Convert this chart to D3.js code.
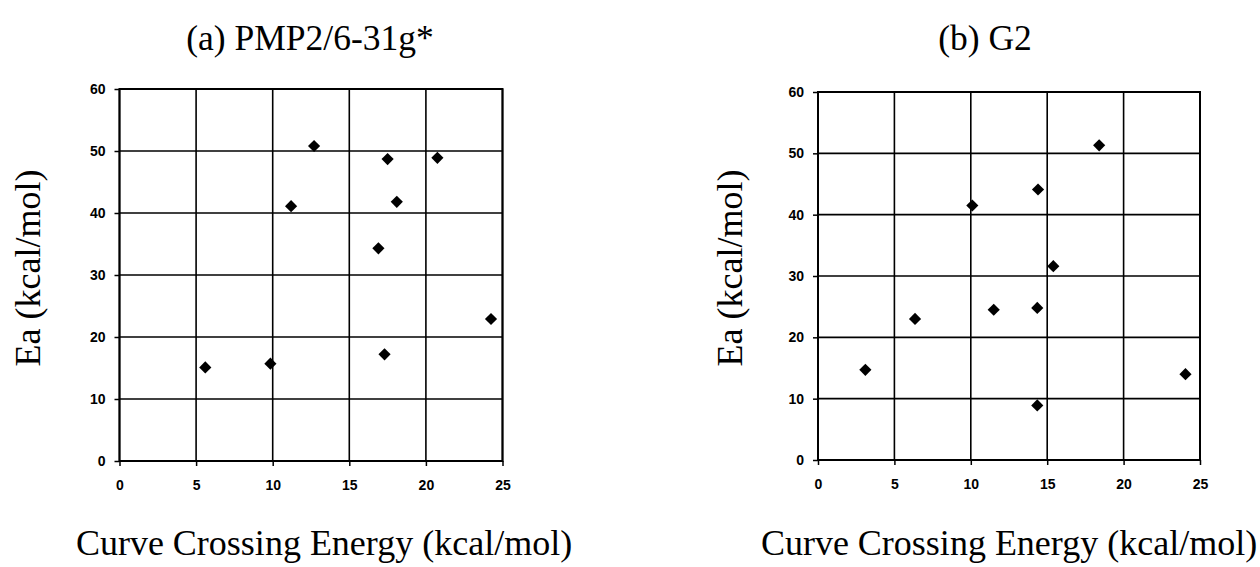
<!DOCTYPE html>
<html>
<head>
<meta charset="utf-8">
<script src="https://cdn.jsdelivr.net/npm/d3@7"></script>
<style>
  html, body { margin: 0; padding: 0; background: #fff; }
  svg { display: block; }
  .tick text { font-family: "Liberation Sans", Arial, sans-serif; font-size: 14px; font-weight: bold; fill: #000; }
  .title, .axis-label { font-family: "Liberation Serif", "Times New Roman", serif; fill: #000; }
</style>
</head>
<body>
<svg id="chart" width="1260" height="567"></svg>
<script>
// Axis ticks shared by both panels
const xTicks = [0, 5, 10, 15, 20, 25];
const yTicks = [0, 10, 20, 30, 40, 50, 60];

// Panel (a): PMP2/6-31g* — curve crossing energy vs activation energy
const pmp2Crossing = [5.6, 9.85, 11.2, 12.7, 17.5, 20.75, 18.1, 16.9, 17.3, 24.25];
const pmp2Ea       = [15.1, 15.7, 41.1, 50.8, 48.7, 48.9, 41.8, 34.3, 17.2, 22.9];

// Panel (b): G2
const g2Crossing = [3.1, 6.35, 10.1, 11.5, 14.4, 14.35, 14.35, 15.4, 18.4, 24.05];
const g2Ea       = [14.7, 23.0, 41.5, 24.5, 44.1, 24.8, 8.9, 31.6, 51.3, 14.0];

const titles = ["(a) PMP2/6-31g*", "(b) G2"];
const xLabel = "Curve Crossing Energy (kcal/mol)";
const yLabel = "Ea (kcal/mol)";

const svg = d3.select("#chart");

const panels = [
  { title: titles[0], xs: pmp2Crossing, ys: pmp2Ea,
    left: 119.5, right: 502.5, top: 89, bottom: 461,
    titleX: 310, xLabelX: 324, yLabelX: 40 },
  { title: titles[1], xs: g2Crossing, ys: g2Ea,
    left: 818, right: 1200, top: 92, bottom: 460,
    titleX: 985, xLabelX: 1009, yLabelX: 742 }
];

const diamond = d3.symbol().type(d3.symbolSquare).size(74)();

panels.forEach(p => {
  const x = d3.scaleLinear().domain([0, 25]).range([p.left, p.right]);
  const y = d3.scaleLinear().domain([0, 60]).range([p.bottom, p.top]);
  const g = svg.append("g");

  // grid lines
  g.append("g").selectAll("line").data(xTicks).join("line")
    .attr("x1", d => x(d)).attr("x2", d => x(d))
    .attr("y1", p.top).attr("y2", p.bottom)
    .attr("stroke", "#000").attr("stroke-width", 1.6);
  g.append("g").selectAll("line").data(yTicks).join("line")
    .attr("x1", p.left).attr("x2", p.right)
    .attr("y1", d => y(d)).attr("y2", d => y(d))
    .attr("stroke", "#000").attr("stroke-width", 1.6);

  // frame
  g.append("rect")
    .attr("x", p.left).attr("y", p.top)
    .attr("width", p.right - p.left).attr("height", p.bottom - p.top)
    .attr("fill", "none").attr("stroke", "#000").attr("stroke-width", 2);

  // axes
  const xAxis = g.append("g").attr("transform", `translate(0,${p.bottom})`)
    .call(d3.axisBottom(x).tickValues(xTicks).tickSize(5).tickPadding(14).tickFormat(d3.format("d")));
  const yAxis = g.append("g").attr("transform", `translate(${p.left},0)`)
    .call(d3.axisLeft(y).tickValues(yTicks).tickSize(5).tickPadding(9).tickFormat(d3.format("d")));
  [xAxis, yAxis].forEach(a => {
    a.select(".domain").remove();
    a.selectAll(".tick line").attr("stroke", "#000").attr("stroke-width", 1.5);
  });

  // points
  g.append("g").selectAll("path").data(p.xs.map((v, i) => [v, p.ys[i]])).join("path")
    .attr("d", diamond)
    .attr("transform", d => `translate(${x(d[0])},${y(d[1])}) rotate(45)`)
    .attr("fill", "#000");

  // texts
  svg.append("text").attr("class", "title")
    .attr("x", p.titleX).attr("y", 50)
    .attr("text-anchor", "middle").attr("font-size", 35.5)
    .text(p.title);
  svg.append("text").attr("class", "axis-label")
    .attr("x", p.xLabelX).attr("y", 555)
    .attr("text-anchor", "middle").attr("font-size", 36)
    .text(xLabel);
  svg.append("text").attr("class", "axis-label")
    .attr("transform", `translate(${p.yLabelX},268) rotate(-90)`)
    .attr("text-anchor", "middle").attr("font-size", 36)
    .text(yLabel);
});
</script>
</body>
</html>
